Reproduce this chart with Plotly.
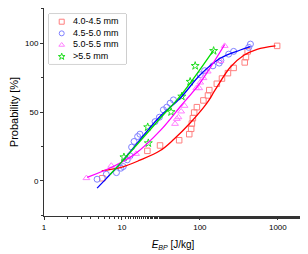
import plotly.graph_objects as go

# ---- data ----
red_x = [5.6, 21.2, 30.8, 54.2, 73, 77.3, 78.9, 81.3, 84.5, 91.5, 111, 127, 132, 165, 192, 229, 271, 376, 390, 410, 980]
red_y = [1.9, 21.8, 25.7, 29.5, 33.9, 37.8, 41.6, 45.5, 49.6, 53.5, 58.4, 62, 65.9, 70.5, 74.3, 78.2, 82, 86, 89.8, 94, 98]

blue_x = [4.8, 6.3, 8.5, 9.7, 10.4, 11.7, 12.7, 13.3, 14.3, 15.9, 17.0, 26.6, 30.2, 34.0, 37.6, 41.5, 45.8,
          101, 115, 147, 177, 186, 234, 271, 423, 445]
blue_y = [1.2, 4.8, 6, 9.2, 10.4, 15.3, 18.2, 24.5, 28.6, 32.2, 33.9, 43, 46.2, 51.6, 53.5, 56.4, 58.8,
          77, 80, 83.5, 85.5, 87.4, 92, 94, 96.9, 99.3]

mag_x = [3.5, 7.3, 12.1, 15.2, 48, 50.6, 53, 57.5, 63.5, 90, 98, 101, 111, 126, 183, 208]
mag_y = [2, 11, 17, 19.6, 41.4, 45, 46.2, 50.4, 54.5, 67.3, 67.3, 71.4, 74.6, 79.4, 87, 98]

green_x = [10.6, 21.4, 21.8, 42.7, 58.6, 75, 87, 150]
green_y = [17.2, 39, 27.4, 50, 61.3, 72, 83.5, 94.4]

# fitted curves
red_fit_x = [5.5, 10, 17, 31, 46, 75, 123, 157, 245, 363, 541, 933]
red_fit_y = [7.3, 10, 15, 22, 30, 42, 56.4, 66, 82.5, 91, 95.5, 98]

blue_fit_x = [4.8, 10, 29.3, 55.8, 101, 182, 330, 445]
blue_fit_y = [-5.3, 14, 45.5, 60, 77, 89, 95, 97.5]

mag_fit_x = [3.58, 8.1, 14.7, 31.6, 56.2, 100, 208]
mag_fit_y = [2.5, 11, 19.5, 37, 54, 71, 99]

green_fit_x = [7, 10, 31.6, 55.8, 150]
green_fit_y = [4.4, 14, 46, 61.5, 95]

names = ["4.0-4.5 mm", "4.5-5.0 mm", "5.0-5.5 mm", ">5.5 mm"]
x_tickvals = [1, 10, 100, 1000]
x_ticktext = ["1", "10", "100", "1000"]
y_tickvals = [0, 50, 100]

FONT = "Liberation Sans, Arial, sans-serif"
AX = "#333333"

fig = go.Figure()

series = [
    (red_x, red_y, red_fit_x, red_fit_y, "square-open", "#ff7f7f", "#ff0000", 5.5),
    (blue_x, blue_y, blue_fit_x, blue_fit_y, "circle-open", "#8080ff", "#0000ff", 6),
    (mag_x, mag_y, mag_fit_x, mag_fit_y, "triangle-up-open", "#ff80ff", "#ff00ff", 6),
    (green_x, green_y, green_fit_x, green_fit_y, "star-open", "#22dd22", "#00dd00", 6),
]

for (sx, sy, fx, fy, sym, mcol, lcol, msz), nm in zip(series, names):
    fig.add_trace(go.Scatter(
        x=sx, y=sy, mode="markers", name=nm, showlegend=False,
        marker=dict(symbol=sym, size=msz, color=mcol, line=dict(width=1, color=mcol)),
    ))

for (sx, sy, fx, fy, sym, mcol, lcol, msz), nm in zip(series, names):
    fig.add_trace(go.Scatter(
        x=fx, y=fy, mode="lines", showlegend=False,
        line=dict(color=lcol, width=1.3, shape="spline", smoothing=1.0),
        hoverinfo="skip",
    ))

# ---- compact legend drawn on an inset axis (one row per series) ----
LEG_X0, LEG_X1, LEG_Y0, LEG_Y1 = 0.0194, 0.318, 0.731, 0.971
for i, ((sx, sy, fx, fy, sym, mcol, lcol, msz), nm) in enumerate(zip(series, names)):
    fig.add_trace(go.Scatter(
        x=[12.7], y=[i], mode="markers", xaxis="x2", yaxis="y2", showlegend=False,
        marker=dict(symbol=sym, size=5, color=mcol, line=dict(width=1, color=mcol)),
        hoverinfo="skip",
    ))
fig.add_trace(go.Scatter(
    x=[24] * len(names), y=list(range(len(names))), text=names, mode="text",
    textposition="middle right", xaxis="x2", yaxis="y2", showlegend=False,
    textfont=dict(size=9, family=FONT, color="black"), hoverinfo="skip",
))

fig.add_shape(type="rect", xref="paper", yref="paper",
              x0=LEG_X0, x1=LEG_X1, y0=LEG_Y0, y1=LEG_Y1,
              line=dict(color="#a0a0a0", width=1), fillcolor="white", layer="below")

# page body adds an 8px offset; compensate so plot area matches reference
fig.update_layout(
    width=300, height=246,
    margin=dict(l=36, r=6, t=0, b=38),
    paper_bgcolor="white", plot_bgcolor="white",
    font=dict(family=FONT, size=8, color="black"),
    showlegend=False,
    xaxis=dict(
        type="log", range=[0, 3.31],
        tickvals=x_tickvals, ticktext=x_ticktext,
        showline=True, linecolor=AX, linewidth=1,
        ticks="outside", ticklen=3, tickcolor=AX,
        minor=dict(ticks="outside", ticklen=2, tickcolor=AX, showgrid=False),
        showgrid=False, zeroline=False,
        tickfont=dict(size=8),
        title=dict(text="<i>E</i><sub><i>BP</i></sub> [J/kg]", font=dict(size=10), standoff=10),
    ),
    yaxis=dict(
        range=[-25.5, 125.5],
        tickvals=y_tickvals,
        showline=True, linecolor=AX, linewidth=1,
        ticks="outside", ticklen=3, tickcolor=AX,
        minor=dict(ticks="outside", ticklen=2, tickcolor=AX, dtick=25, tick0=0, showgrid=False),
        showgrid=False, zeroline=False,
        tickfont=dict(size=8),
        title=dict(text="Probability [%]", font=dict(size=11), standoff=5),
    ),
    xaxis2=dict(domain=[LEG_X0, LEG_X1], range=[0, 77], visible=False, anchor="y2", fixedrange=True),
    yaxis2=dict(domain=[LEG_Y0, LEG_Y1], range=[3.63, -0.66], visible=False, anchor="x2", fixedrange=True),
)

fig.write_html("out.html")
